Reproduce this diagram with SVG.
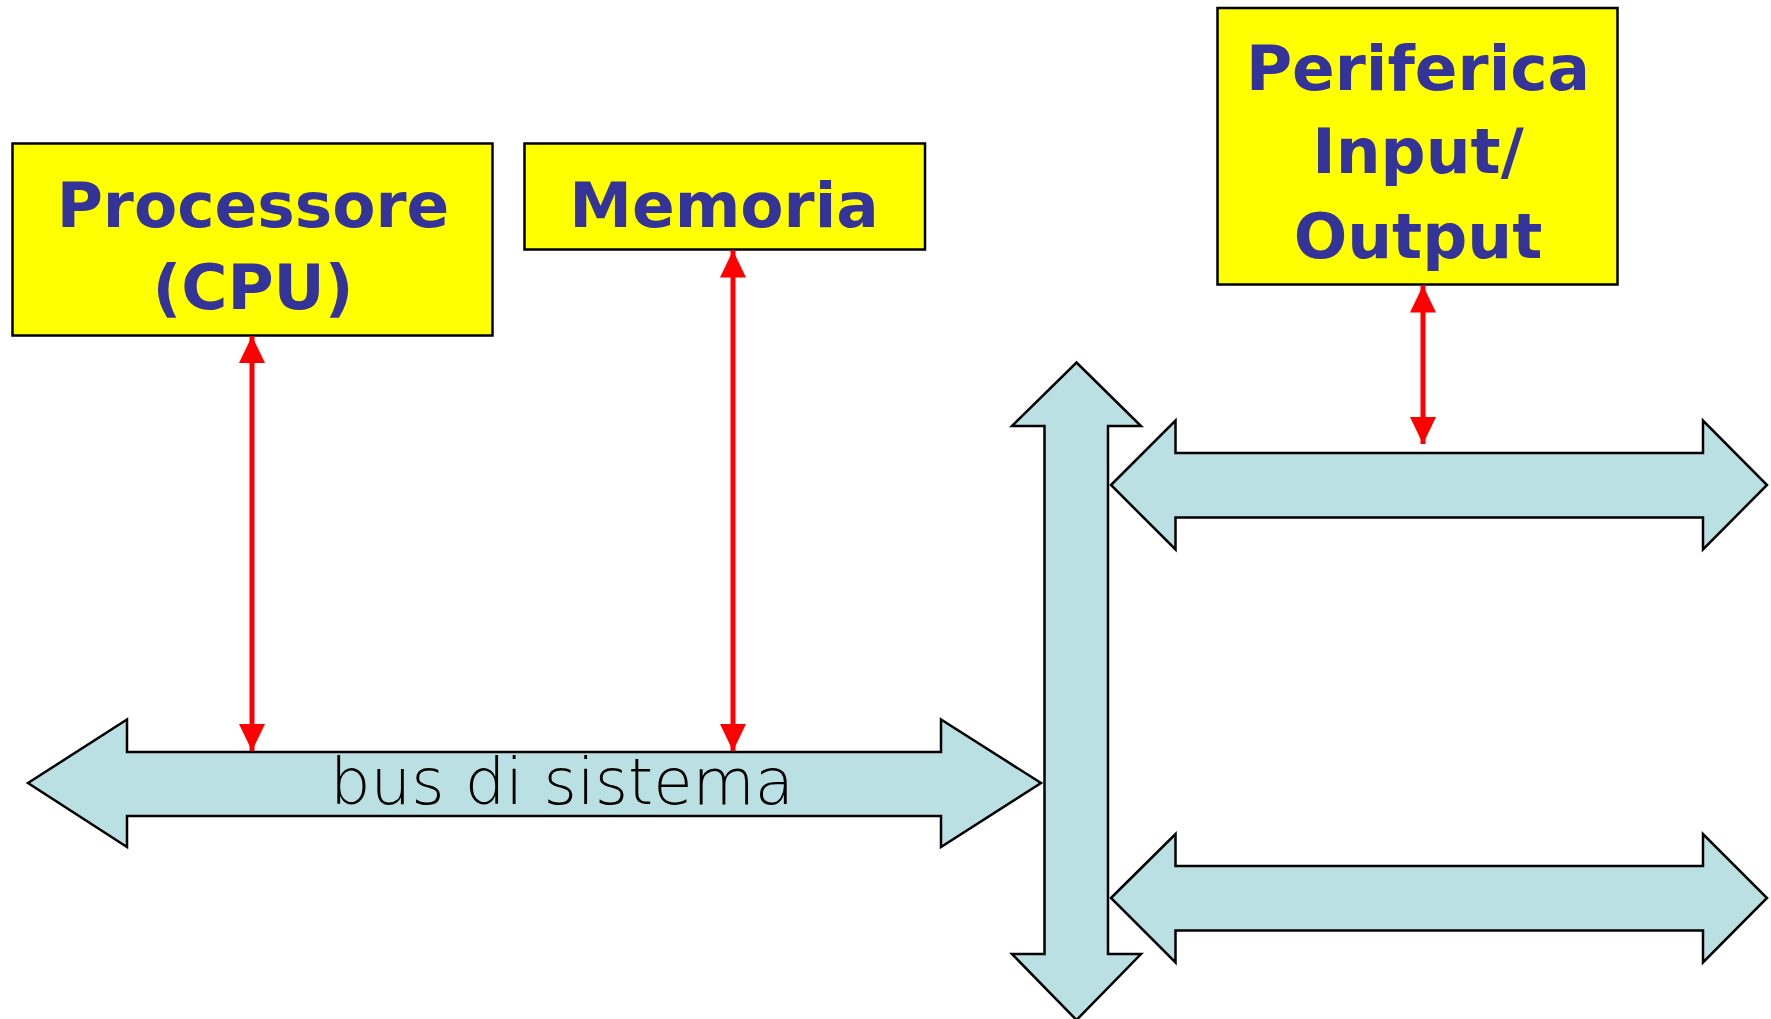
<svg xmlns="http://www.w3.org/2000/svg" width="1771" height="1019" viewBox="0 0 1771 1019">
<style>
.box{fill:#FFFF00;stroke:#000;stroke-width:2.5}
.bus{fill:#BBE0E3;stroke:#000;stroke-width:2.5;stroke-linejoin:miter}
.lbl{font-family:"DejaVu Sans","Verdana",sans-serif;font-weight:bold;font-size:63px;fill:#333399;text-anchor:middle}
.buslbl{font-family:"DejaVu Sans",sans-serif;font-weight:200;font-size:64px;fill:#000;text-anchor:middle}
.link{stroke:#FF0000;stroke-width:5;fill:none;marker-start:url(#ah);marker-end:url(#ah)}
</style>
<defs>
<marker id="ah" viewBox="0 0 27 26" refX="27" refY="13" markerWidth="27" markerHeight="26" markerUnits="userSpaceOnUse" orient="auto-start-reverse">
<path d="M0,0 L27,13 L0,26 Z" fill="#FF0000"/>
</marker>
</defs>
<rect width="1771" height="1019" fill="#fff"/>
<g id="buses">
<polygon id="bus-sistema" class="bus" points="28,783 127,719.5 127,752 941,752 941,719.5 1041,783 941,847 941,816 127,816 127,847"/>
<polygon id="bus-vertical" class="bus" points="1076.5,362.5 1141,426 1108,426 1108,954 1141,954 1076.5,1020 1012,954 1044.5,954 1044.5,426 1012,426"/>
<polygon id="bus-io-1" class="bus" points="1111,485 1175.5,420.5 1175.5,453 1703,453 1703,420.5 1767,485 1703,549.5 1703,517.5 1175.5,517.5 1175.5,549.5"/>
<polygon id="bus-io-2" class="bus" points="1111,898 1175.5,834 1175.5,866 1703,866 1703,834 1767,898 1703,962.5 1703,930.5 1175.5,930.5 1175.5,962.5"/>
<text class="buslbl" x="562" y="804">bus di sistema</text>
</g>
<g id="cpu">
<rect class="box" x="12.5" y="143.5" width="480" height="192"/>
<text class="lbl" x="253" y="227">Processore</text>
<text class="lbl" x="253" y="309">(CPU)</text>
</g>
<g id="memoria">
<rect class="box" x="524.5" y="143.5" width="400.5" height="106"/>
<text class="lbl" x="724" y="227">Memoria</text>
</g>
<g id="periferica">
<rect class="box" x="1217.5" y="8" width="400" height="276.5"/>
<text class="lbl" x="1418" y="90">Periferica</text>
<text class="lbl" x="1418" y="173">Input/</text>
<text class="lbl" x="1418" y="258">Output</text>
</g>
<g id="connectors">
<line class="link" x1="252" y1="336" x2="252" y2="751"/>
<line class="link" x1="733" y1="250.5" x2="733" y2="751"/>
<line class="link" x1="1423" y1="285.5" x2="1423" y2="444"/>
</g>
</svg>
